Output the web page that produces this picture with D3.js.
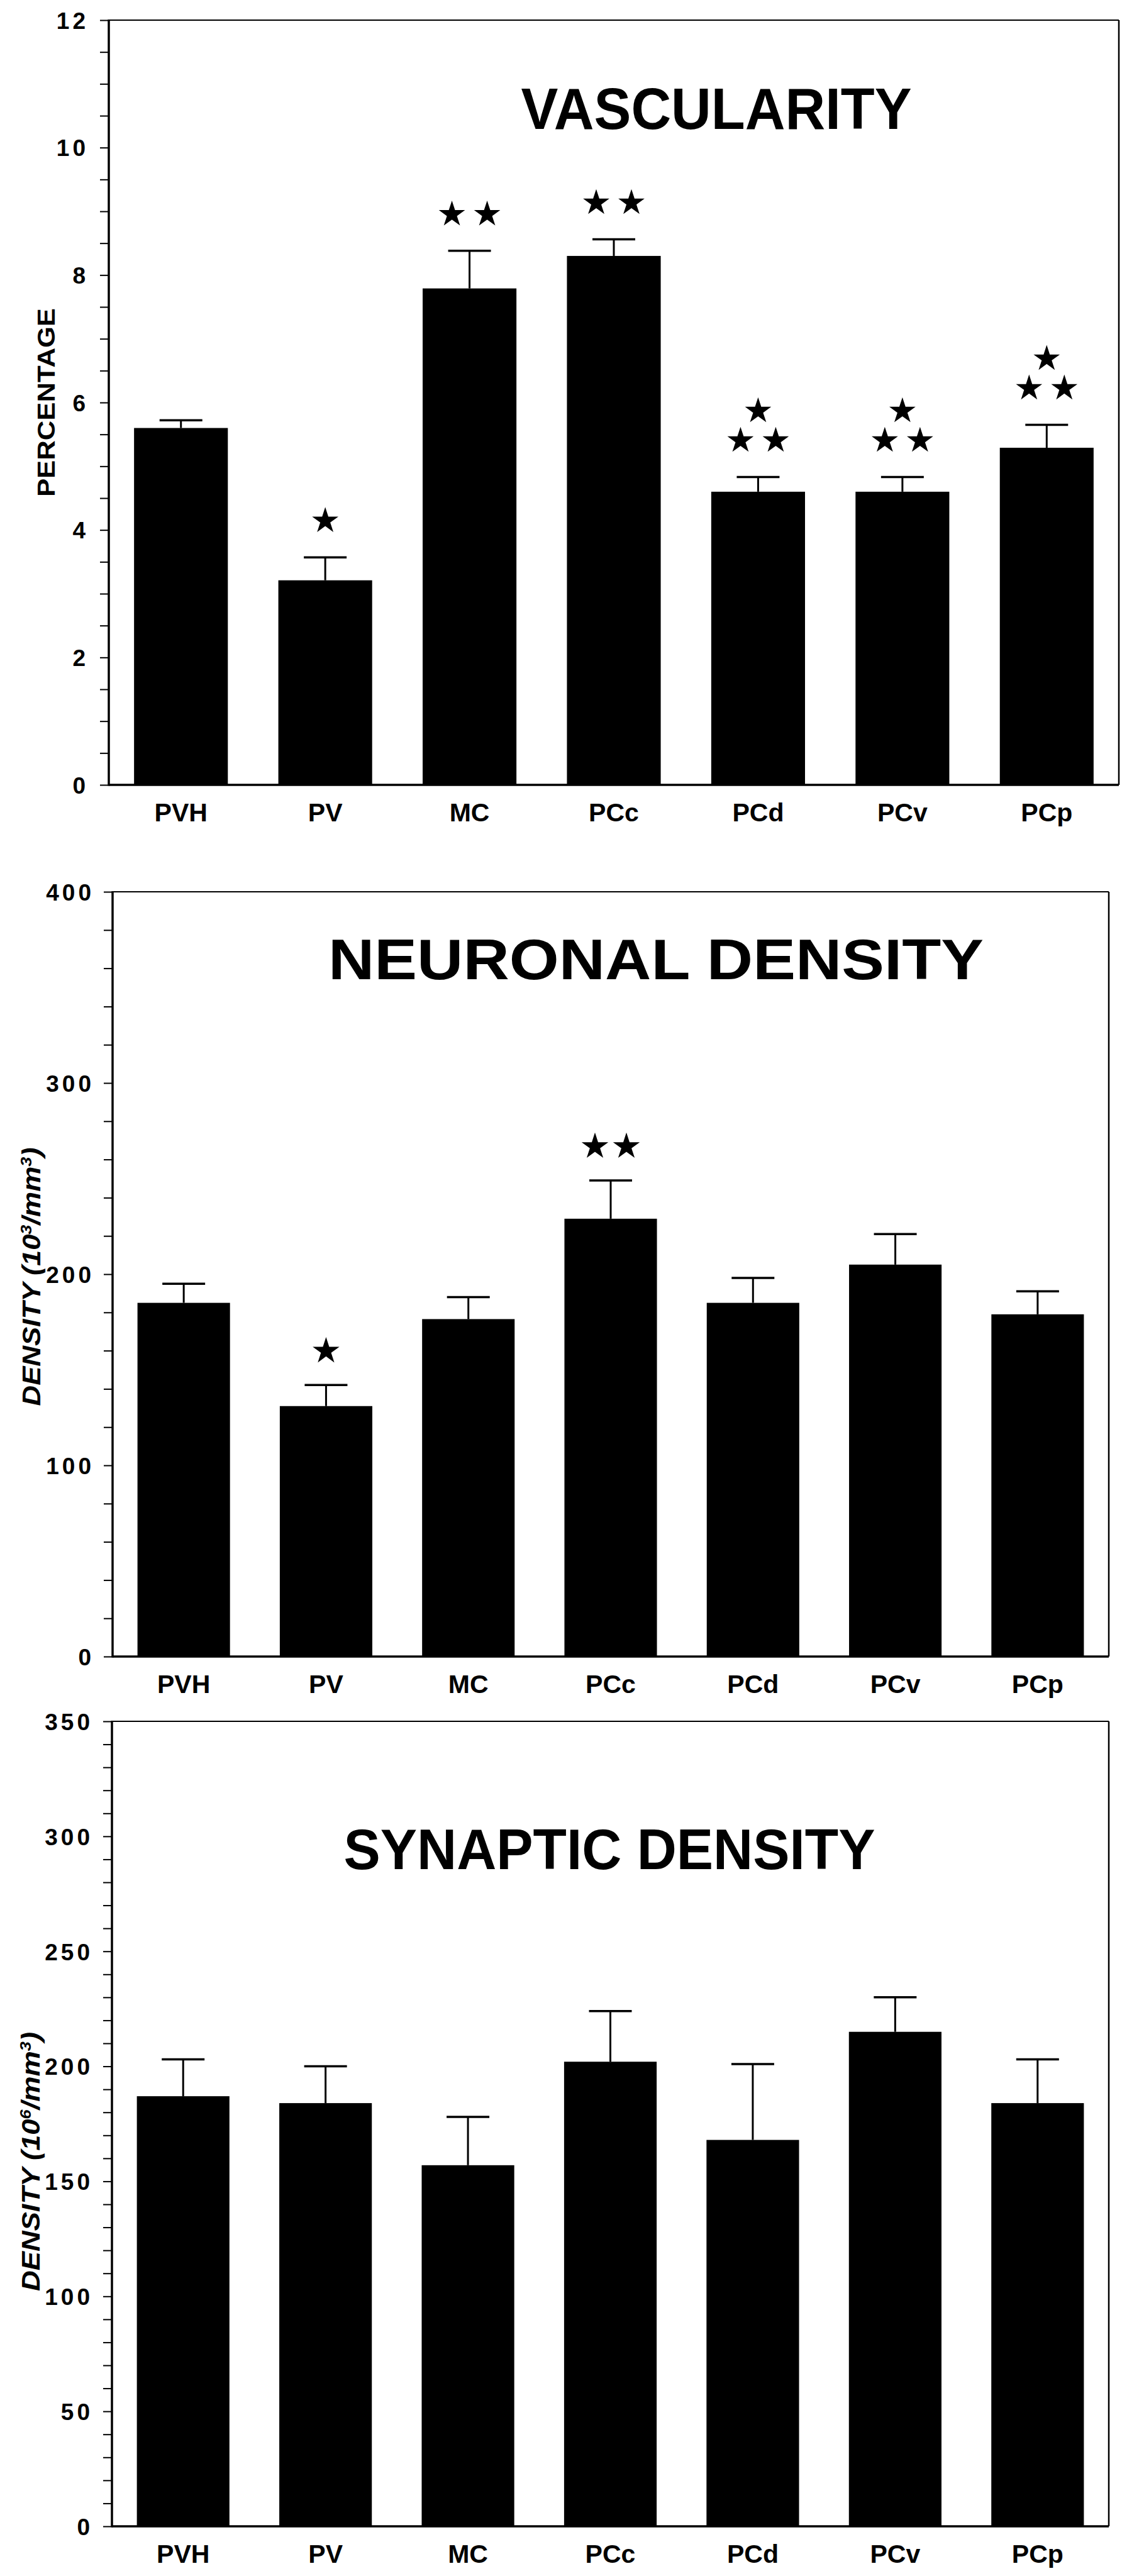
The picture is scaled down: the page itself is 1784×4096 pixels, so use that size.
<!DOCTYPE html>
<html>
<head>
<meta charset="utf-8">
<script src="https://cdn.jsdelivr.net/npm/d3@7"></script>
<style>
    body { margin: 0; background: #fff; }
    svg { display: block; }
    text { font-family: "Liberation Sans", Arial, Helvetica, sans-serif; font-weight: bold; fill: #000; }
</style>
</head>
<body>
<svg id="chart"></svg>
<script>
const WIDTH = 1784;
const HEIGHT = 4096;

// Data
const CATEGORIES = ['PVH', 'PV', 'MC', 'PCc', 'PCd', 'PCv', 'PCp'];

const VASC_VALUES = [5.60, 3.21, 7.79, 8.30, 4.60, 4.60, 5.29];
const VASC_ERRORS = [0.12, 0.36, 0.59, 0.26, 0.23, 0.23, 0.36];
const VASC_STARS  = [0, 1, 2, 2, 3, 3, 3];
const VASC_TICKS  = [0, 2, 4, 6, 8, 10, 12];

const NEURON_VALUES = [185, 131, 176.5, 229, 185, 205, 179];
const NEURON_ERRORS = [10, 11, 11.5, 20, 13, 16, 12];
const NEURON_STARS  = [0, 1, 0, 2, 0, 0, 0];
const NEURON_TICKS  = [0, 100, 200, 300, 400];

const SYNAPSE_VALUES = [187, 184, 157, 202, 168, 215, 184];
const SYNAPSE_ERRORS = [16, 16, 21, 22, 33, 15, 19];
const SYNAPSE_STARS  = [0, 0, 0, 0, 0, 0, 0];
const SYNAPSE_TICKS  = [0, 50, 100, 150, 200, 250, 300, 350];

const panels = [
    {
        title: 'VASCULARITY', yLabel: ['PERCENTAGE'], italic: false,
        values: VASC_VALUES, errors: VASC_ERRORS, stars: VASC_STARS, ticks: VASC_TICKS, minorStep: 0.5,
        left: 173, right: 1779, top: 32, bottom: 1248,
        titleX: 1139, titleY: 205, titleLen: 621, titleSize: 92,
        yLabelX: 87, yLabelY: 640, yLabelLen: 300, yLabelSize: 38, tickEnd: 136,
        star: { size: 540, dx: 28, gap: 58, stack: 47 }
    },
    {
        title: 'NEURONAL DENSITY', yLabel: ['DENSITY (10', '3', '/mm', '3', ')'], italic: true,
        values: NEURON_VALUES, errors: NEURON_ERRORS, stars: NEURON_STARS, ticks: NEURON_TICKS, minorStep: 20,
        left: 179, right: 1763, top: 1418, bottom: 2634,
        titleX: 1043, titleY: 1557, titleLen: 1042, titleSize: 90,
        yLabelX: 64, yLabelY: 2030, yLabelLen: 411, yLabelSize: 40, tickEnd: 145,
        star: { size: 560, dx: 25, gap: 54, stack: 46 }
    },
    {
        title: 'SYNAPTIC DENSITY', yLabel: ['DENSITY (10', '6', '/mm', '3', ')'], italic: true,
        values: SYNAPSE_VALUES, errors: SYNAPSE_ERRORS, stars: SYNAPSE_STARS, ticks: SYNAPSE_TICKS, minorStep: 10,
        left: 178, right: 1763, top: 2737, bottom: 4017,
        titleX: 969, titleY: 2972, titleLen: 845, titleSize: 90,
        yLabelX: 63, yLabelY: 3437, yLabelLen: 412, yLabelSize: 40, tickEnd: 143,
        star: { size: 560, dx: 25, gap: 54, stack: 46 }
    }
];

const svg = d3.select('#chart')
    .attr('width', WIDTH)
    .attr('height', HEIGHT);

svg.append('rect').attr('width', WIDTH).attr('height', HEIGHT).attr('fill', '#fff');

panels.forEach(drawPanel);

function drawPanel(p) {
    let g = svg.append('g');
    let yMax = p.ticks[p.ticks.length - 1];

    let x = d3.scaleBand()
        .domain(CATEGORIES)
        .range([p.left, p.right])
        .paddingInner(0.35)
        .paddingOuter(0.175);

    let y = d3.scaleLinear()
        .domain([0, yMax])
        .range([p.bottom, p.top]);

    // minor + major tick marks
    let minor = d3.range(0, yMax + p.minorStep / 2, p.minorStep);
    let tickAxis = g.append('g')
        .attr('transform', `translate(${p.left}, 0)`)
        .call(d3.axisLeft(y).tickValues(minor).tickSize(14).tickFormat(''));
    tickAxis.select('.domain').remove();
    tickAxis.selectAll('line').attr('stroke', '#000').attr('stroke-width', 2);

    // tick labels
    let labelAxis = g.append('g')
        .attr('transform', `translate(${p.left}, 0)`)
        .call(d3.axisLeft(y).tickValues(p.ticks).tickSize(0).tickPadding(p.left - p.tickEnd - 5));
    labelAxis.select('.domain').remove();
    labelAxis.attr('font-size', null).attr('font-family', null);
    labelAxis.selectAll('text')
        .style('font-size', '37px')
        .style('letter-spacing', '5px')
        .attr('dy', '0.36em');

    // frame
    g.append('line').attr('x1', p.left).attr('x2', p.right).attr('y1', p.top).attr('y2', p.top)
        .attr('stroke', '#000').attr('stroke-width', 2);
    g.append('line').attr('x1', p.right).attr('x2', p.right).attr('y1', p.top).attr('y2', p.bottom)
        .attr('stroke', '#000').attr('stroke-width', 2.5);
    g.append('line').attr('x1', p.left).attr('x2', p.left).attr('y1', p.top - 1).attr('y2', p.bottom + 1.5)
        .attr('stroke', '#000').attr('stroke-width', 3.5);

    // bars
    let rows = CATEGORIES.map((c, i) => ({ cat: c, value: p.values[i], err: p.errors[i], stars: p.stars[i] }));

    g.append('g')
        .selectAll('rect')
        .data(rows)
        .enter().append('rect')
            .attr('x', d => x(d.cat))
            .attr('y', d => y(d.value))
            .attr('width', x.bandwidth())
            .attr('height', d => y(0) - y(d.value))
            .attr('fill', '#000');

    // error bars
    let eb = g.append('g').selectAll('g').data(rows).enter().append('g');
    eb.append('line')
        .attr('x1', d => x(d.cat) + x.bandwidth() / 2)
        .attr('x2', d => x(d.cat) + x.bandwidth() / 2)
        .attr('y1', d => y(d.value))
        .attr('y2', d => y(d.value + d.err))
        .attr('stroke', '#000').attr('stroke-width', 3);
    eb.append('line')
        .attr('x1', d => x(d.cat) + x.bandwidth() / 2 - 34)
        .attr('x2', d => x(d.cat) + x.bandwidth() / 2 + 34)
        .attr('y1', d => y(d.value + d.err))
        .attr('y2', d => y(d.value + d.err))
        .attr('stroke', '#000').attr('stroke-width', 3.5);

    // bottom axis line
    g.append('line').attr('x1', p.left).attr('x2', p.right).attr('y1', p.bottom).attr('y2', p.bottom)
        .attr('stroke', '#000').attr('stroke-width', 3.5);

    // significance stars
    let starPath = d3.symbol().type(d3.symbolStar).size(p.star.size)();
    rows.forEach(d => {
        if (!d.stars) return;
        let cx = x(d.cat) + x.bandwidth() / 2;
        let capY = y(d.value + d.err);
        let spots = [];
        if (d.stars === 1) {
            spots.push([cx, capY - p.star.gap]);
        } else {
            spots.push([cx - p.star.dx, capY - p.star.gap]);
            spots.push([cx + p.star.dx, capY - p.star.gap]);
            if (d.stars === 3) spots.push([cx, capY - p.star.gap - p.star.stack]);
        }
        spots.forEach(s => {
            g.append('path')
                .attr('d', starPath)
                .attr('transform', `translate(${s[0]}, ${s[1]})`)
                .attr('fill', '#000');
        });
    });

    // category labels
    g.append('g')
        .selectAll('text')
        .data(CATEGORIES)
        .enter().append('text')
            .attr('x', d => x(d) + x.bandwidth() / 2)
            .attr('y', p.bottom + 58)
            .attr('text-anchor', 'middle')
            .style('font-size', '41px')
            .text(d => d);

    // title
    g.append('text')
        .attr('x', p.titleX)
        .attr('y', p.titleY)
        .attr('text-anchor', 'middle')
        .attr('textLength', p.titleLen)
        .attr('lengthAdjust', 'spacingAndGlyphs')
        .style('font-size', p.titleSize + 'px')
        .text(p.title);

    // y axis label
    let yl = g.append('text')
        .attr('transform', `translate(${p.yLabelX}, ${p.yLabelY}) rotate(-90)`)
        .attr('text-anchor', 'middle')
        .attr('textLength', p.yLabelLen)
        .attr('lengthAdjust', 'spacingAndGlyphs')
        .style('font-size', p.yLabelSize + 'px')
        .style('font-style', p.italic ? 'italic' : 'normal');
    p.yLabel.forEach((part, i) => {
        let sup = i % 2 === 1;
        yl.append('tspan')
            .attr('dy', sup ? -14 : (i > 0 ? 14 : 0))
            .style('font-size', sup ? '24px' : null)
            .text(part);
    });
}
</script>
</body>
</html>
